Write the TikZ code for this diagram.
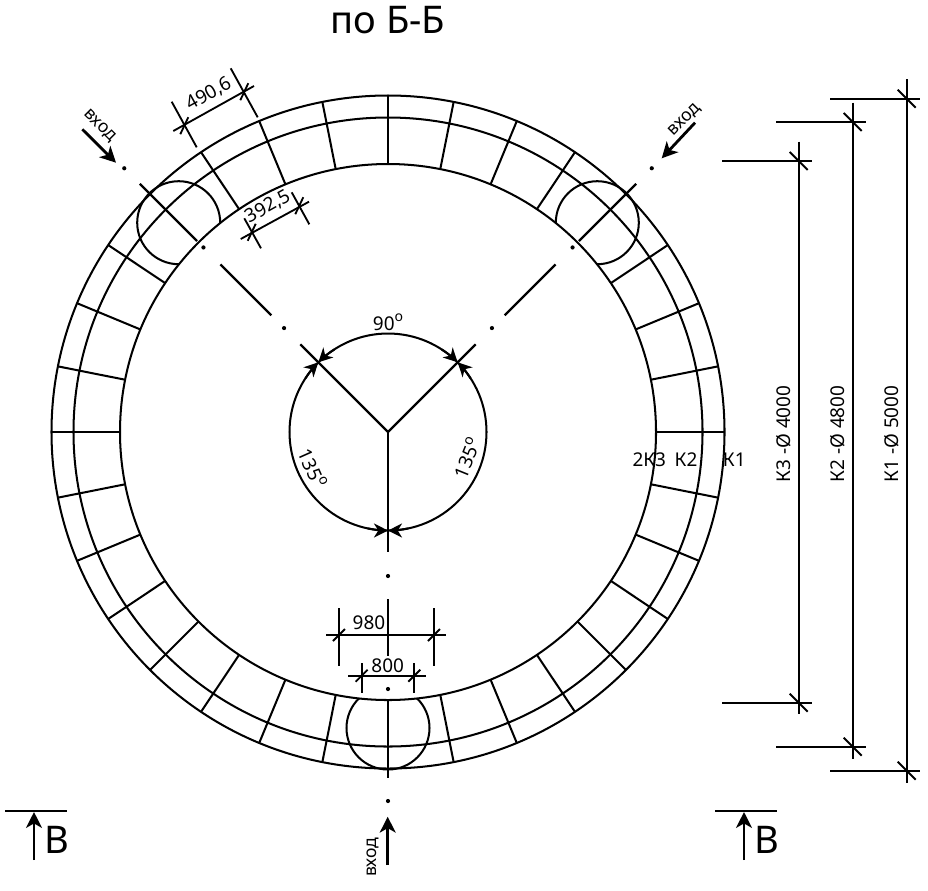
\documentclass[tikz,border=0pt]{standalone}
\usepackage{fontspec}
\setmainfont{Noto Sans}
\usetikzlibrary{arrows.meta}

\tikzset{
  ring/.style={line width=1.15pt},
  dimline/.style={line width=1.05pt},
  axisline/.style={line width=1.3pt},
  dimtip/.style={line width=1.15pt,-{Stealth[length=8pt,width=8pt,inset=2.5pt]}},
  entry/.style={line width=1.6pt,-{Stealth[length=9pt,width=9pt,inset=2.5pt]}},
  lbl/.style={inner sep=0pt,font=\fontsize{10.8}{12}\selectfont},
  small/.style={inner sep=0pt,font=\fontsize{10.8}{12}\selectfont},
  tiny/.style={inner sep=0pt,font=\fontsize{10}{11}\selectfont},
  big/.style={inner sep=0pt,font=\fontsize{21.7}{24}\selectfont}
}

\begin{document}
\begin{tikzpicture}[x=0.02cm,y=-0.02cm]

  \useasboundingbox (0,0) rectangle (928,890);

  \node (title) at (388,20) [big] {по Б-Б};

  \begin{scope}[shift={(388,432)}]
    \foreach \r in {336.5,314.5,268}
    {
      \draw [ring] (0,0) circle (\r);
    }
    % blocks, every 11.25 degrees, none at the three entries
    \foreach \i in {0,...,31}
    {
      \pgfmathsetmacro{\a}{\i*11.25}
      \ifnum\i=8 \else\ifnum\i=20 \else\ifnum\i=28 \else
        \draw [ring] (\a:268) -- (\a:336.5);
      \fi\fi\fi
    }
    \foreach \a in {-45,-135,90}
    {
      \begin{scope}[even odd rule]
        \clip (0,0) circle (345) (0,0) circle (268);
        \draw [ring] (\a:296) circle (41.5);
      \end{scope}
    }
    % centre lines
    \foreach \a in {-45,-135}
    {
      \draw [axisline] (0,0) -- (\a:124);
      \draw [axisline] (\a:165) -- (\a:237);
      \draw [axisline] (\a:270) -- (\a:351);
      \foreach \r in {147,261,373}
      {
        \fill (\a:\r) circle (2.1);
      }
    }
    \draw [axisline] (0,0) -- (90:120);
    \draw [axisline] (90:167) -- (90:224);
    \draw [axisline] (90:268) -- (90:346);
    \foreach \r in {144,257,369}
    {
      \fill (90:\r) circle (2.1);
    }
    % angle marks
    \draw [ring] (0,0) circle (98.5);
    \foreach \s/\e in {-123/-135,-57/-45,-33/-45,78/90,102/90,213/225}
    {
      \draw [dimtip] (\s:98.5) arc [start angle=\s,end angle=\e,radius=98.5];
    }
  \end{scope}

  \node (ang90) at (388,322) [lbl] {90\raisebox{0.45em}{\fontsize{8}{8}\selectfont o}};
  \node (ang135a) at (313,468) [lbl,rotate=-66] {135\raisebox{0.45em}{\fontsize{8}{8}\selectfont o}};
  \node (ang135b) at (467,458) [lbl,rotate=68] {135\raisebox{0.45em}{\fontsize{8}{8}\selectfont o}};

  % chord dimensions
  \draw [dimline] (171.7,101.7) -- (196.7,147.3);
  \draw [dimline] (230.7,68.3) -- (257.7,117.3);
  \draw [dimline] (173.3,131) -- (254,86);
  \node (chordA) at (209,94) [lbl,rotate=29] {490,6};
  \draw [dimline] (244.3,218.3) -- (261,248.3);
  \draw [dimline] (291.7,192.3) -- (309.3,224.3);
  \draw [dimline] (240.7,239) -- (309,201.7);
  \node (chordB) at (268,206.7) [lbl,rotate=29] {392,5};
  \foreach \x/\y in {184.3/125.7,244.3/91.7,251.7/232.3,299.3/205.7}
  {
    \draw [dimline] (\x-4,\y+8.5) -- (\x+4,\y-8.5);
  }

  % entry width
  \draw [dimline] (339,608) -- (339,666);
  \draw [dimline] (434,608) -- (434,666);
  \draw [dimline] (326,635) -- (445.7,635);
  \node (widthA) at (369,623) [lbl] {980};
  \draw [dimline] (361.7,663) -- (361.7,693);
  \draw [dimline] (414.3,663) -- (414.3,693);
  \draw [dimline] (348,675.7) -- (426,675.7);
  \node (widthB) at (387.7,665.7) [lbl] {800};
  \foreach \x/\y in {339/635,434/635,361.7/675.7,414.3/675.7}
  {
    \draw [dimline] (\x-6,\y+6) -- (\x+6,\y-6);
  }

  % diameters
  \foreach \x/\yA/\yB/\yt/\yb/\n/\dia in {798.7/141.7/714.3/161/702.7/3/4000,852.7/102.7/759/122/746.7/2/4800,906.7/79/782.7/98.7/770.7/1/5000}
  {
    \draw [dimline] (\x,\yA) -- (\x,\yB);
    \draw [dimline] (\x-76.5,\yt) -- (\x+13.5,\yt);
    \draw [dimline] (\x-76.5,\yb) -- (\x+13.5,\yb);
    \draw [dimline] (\x-9,\yt-9) -- (\x+9,\yt+9);
    \draw [dimline] (\x-9,\yb-9) -- (\x+9,\yb+9);
    \node (diam\n) at (\x-15,434) [small,rotate=90] {К\n\ -Ø \dia};
  }

  \node (ringC) at (649.3,459.3) [small] {2К3};
  \node (ringB) at (686,459.3) [small] {К2};
  \node (ringA) at (734.3,459.3) [small] {К1};

  % entries
  \draw [entry] (82.3,129.3) -- (116,162.7);
  \node (inA) at (99.5,126) [tiny,rotate=-45] {вход};
  \draw [entry] (695,122.7) -- (661.7,158.3);
  \node (inB) at (685,120) [tiny,rotate=45] {вход};
  \draw [entry] (387.7,865) -- (387.7,816.7);
  \node (inC) at (373,857) [tiny,rotate=90] {вход};

  % section marks
  \foreach \x/\n in {5/secA,715/secB}
  {
    \draw [dimline] (\x,811) -- (\x+62,811);
    \draw [entry] (\x+29,860) -- (\x+29,812);
    \node (\n) at (\x+52,840) [big] {В};
  }

\end{tikzpicture}
\end{document}
